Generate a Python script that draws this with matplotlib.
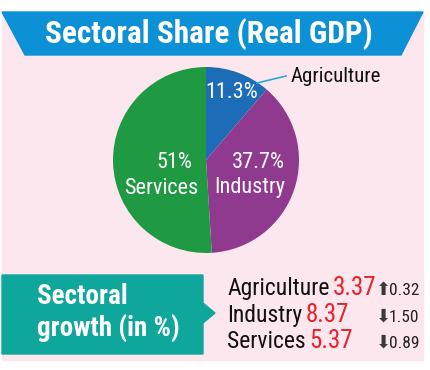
import matplotlib.pyplot as plt
from matplotlib import font_manager as fm
from matplotlib.patches import Polygon, Rectangle

W, H = 430, 370

sectors = ["Agriculture", "Industry", "Services"]
share = [11.3, 37.7, 51.0]
growth = [3.37, 8.37, 5.37]
change = [0.32, -1.50, -0.89]

PINK = "#fde7ee"
BLUE = "#0c90d6"
TEAL = "#0fa79c"
PIE_COLS = ["#1c6cb8", "#903a8f", "#1f9a42"]
RED = "#e8202a"

# pick a condensed sans if one is installed
installed = {f.name for f in fm.fontManager.ttflist}
COND = next((f for f in ["Roboto Condensed", "Archivo Narrow", "Barlow Condensed",
                         "Sofia Sans Condensed", "Liberation Sans Narrow"]
             if f in installed), "DejaVu Sans")
plt.rcParams["font.family"] = [COND, "DejaVu Sans"]


def Y(py):
    # pixel row (from top) -> data y
    return H - py


fig = plt.figure(figsize=(W / 100, H / 100), dpi=100, facecolor="white")
ax = fig.add_axes([0, 0, 1, 1])

# pink panel + title banner
ax.add_patch(Rectangle((2, Y(360)), 421, 348, color=PINK, zorder=0))
ax.add_patch(Polygon([(2, Y(12)), (423, Y(12)), (401, Y(55)), (25, Y(55))],
                     closed=True, color=BLUE, zorder=1))
ax.text(209, Y(34), "Sectoral Share (Real GDP)", color="white", fontsize=22.5,
        fontweight="bold", ha="center", va="center", zorder=2)

# pie
cx, cy, r = 206, Y(160), 93
wedges, _ = ax.pie(share, colors=PIE_COLS, startangle=90, counterclock=False,
                   center=(cx, cy), radius=r, frame=True,
                   wedgeprops=dict(linewidth=0))

# slice labels
labels = [f"{v:g}%" for v in share]
lbl = dict(color="white", fontsize=16, ha="center", va="center")
ax.text(232, Y(93), labels[0], **lbl)
ax.text(258, Y(163), labels[1], **lbl)
ax.text(250, Y(188), sectors[1], **lbl)
ax.text(174, Y(163), labels[2], **lbl)
ax.text(161, Y(188), sectors[2], **lbl)

# agriculture leader line + label
ax.plot([257, 286], [Y(83), Y(76)], color="#2aa8dc", linewidth=1.2, zorder=4)
ax.text(291, Y(77), sectors[0], color="#111111", fontsize=15, ha="left", va="center")

# growth box with arrow
ax.add_patch(Polygon([(2, Y(275)), (203, Y(275)), (203, Y(303)), (215, Y(313)),
                      (203, Y(323)), (203, Y(354)), (2, Y(354))],
                     closed=True, color=TEAL, zorder=1))
ax.text(37, Y(297), "Sectoral", color="white", fontsize=19.5, fontweight="bold",
        ha="left", va="center")
ax.text(37, Y(329), "growth (in %)", color="white", fontsize=19.5, fontweight="bold",
        ha="left", va="center")

rows_y = [Y(295), Y(322), Y(348)]
for name, g, c, yb in zip(sectors, growth, change, rows_y):
    t = ax.text(227, yb, name, color="#111111", fontsize=17, ha="left", va="baseline")
    ax.annotate(f"{g:.2f}", xy=(1, yb), xycoords=(t, "data"), xytext=(2.5, 0),
                textcoords="offset points", color=RED, fontsize=18,
                ha="left", va="baseline")
    arrow = "\u2b06" if c > 0 else "\u2b07"
    ax.text(383, yb, arrow, color="#3a3a3a", fontsize=13, ha="center",
            va="baseline", family=["DejaVu Sans"])
    ax.text(389, yb, f"{abs(c):.2f}", color="#222222", fontsize=12.5, ha="left",
            va="baseline")

ax.set_xlim(0, W)
ax.set_ylim(0, H)
ax.set_aspect("equal")
ax.axis("off")

fig.savefig("out.png", dpi=100, facecolor="white")
